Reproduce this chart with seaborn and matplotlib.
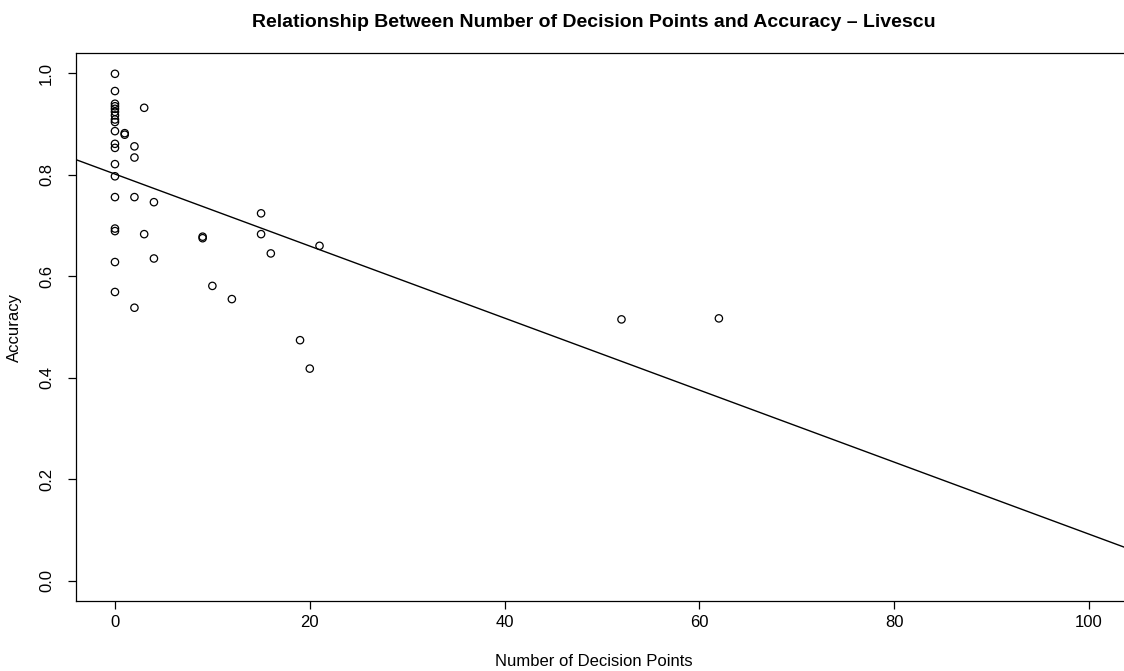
import numpy as np
import pandas as pd
import matplotlib
matplotlib.use("Agg")
import matplotlib.pyplot as plt
import seaborn as sns

# Data
decision_points = [0]*19 + [1, 1, 2, 2, 2, 2, 3, 3, 4, 4, 9, 9, 10, 12, 15, 15, 16, 19, 20, 21, 52, 62]
accuracy = [0.999, 0.965, 0.940, 0.935, 0.930, 0.924, 0.917, 0.909, 0.904, 0.886,
            0.861, 0.853, 0.821, 0.797, 0.756, 0.694, 0.689, 0.628, 0.569,
            0.882, 0.879,
            0.856, 0.834, 0.756, 0.538,
            0.932, 0.683,
            0.746, 0.635,
            0.678, 0.675,
            0.581, 0.555,
            0.724, 0.683,
            0.645, 0.474, 0.418, 0.660,
            0.515, 0.517]
x_ticks = [0, 20, 40, 60, 80, 100]
y_ticks = [0.0, 0.2, 0.4, 0.6, 0.8, 1.0]

df = pd.DataFrame({"Number of Decision Points": decision_points, "Accuracy": accuracy})

sns.set_theme(style="ticks")
plt.rcParams['font.family'] = ['Liberation Sans', 'DejaVu Sans']

W, H = 1124, 671
fig = plt.figure(figsize=(W/100, H/100), dpi=100)
left, right, top, bottom = 76, 1128, 53, 601
ax = fig.add_axes([left/W, 1-bottom/H, (right-left)/W, (bottom-top)/H])

xlim = (-4, 104)
ylim = (-0.04, 1.04)
ax.set_xlim(*xlim)
ax.set_ylim(*ylim)

sns.scatterplot(data=df, x="Number of Decision Points", y="Accuracy", ax=ax,
                marker="o", s=28, facecolors="none", edgecolor="black", linewidth=0.9)
sns.regplot(data=df, x="Number of Decision Points", y="Accuracy", ax=ax,
            scatter=False, ci=None, truncate=False,
            line_kws=dict(color="black", linewidth=1.0))
ax.set_xlim(*xlim)
ax.set_ylim(*ylim)

ax.set_xticks(x_ticks)
ax.set_xticklabels([str(v) for v in x_ticks])
ax.set_yticks(y_ticks)
ax.set_yticklabels([f"{v:.1f}" for v in y_ticks], rotation=90, va="center")
ax.tick_params(axis="both", direction="out", length=5.8, width=0.9, color="black",
               labelsize=12, labelcolor="black")
ax.tick_params(axis="x", pad=4)
ax.tick_params(axis="y", pad=10)

for sp in ax.spines.values():
    sp.set_visible(True)
    sp.set_color("black")
    sp.set_linewidth(0.9)

cx = (594 - left) / (right - left)
ax.set_xlabel("Number of Decision Points", fontsize=12, labelpad=17.5, color="black")
ax.xaxis.label.set_x(cx)
ax.set_ylabel("Accuracy", fontsize=12, labelpad=12, color="black")
ax.set_title("Relationship Between Number of Decision Points and Accuracy \u2013 Livescu",
             fontsize=14, fontweight="bold", pad=18.5, color="black", x=cx)

fig.savefig("out.png", dpi=100, facecolor="white")
